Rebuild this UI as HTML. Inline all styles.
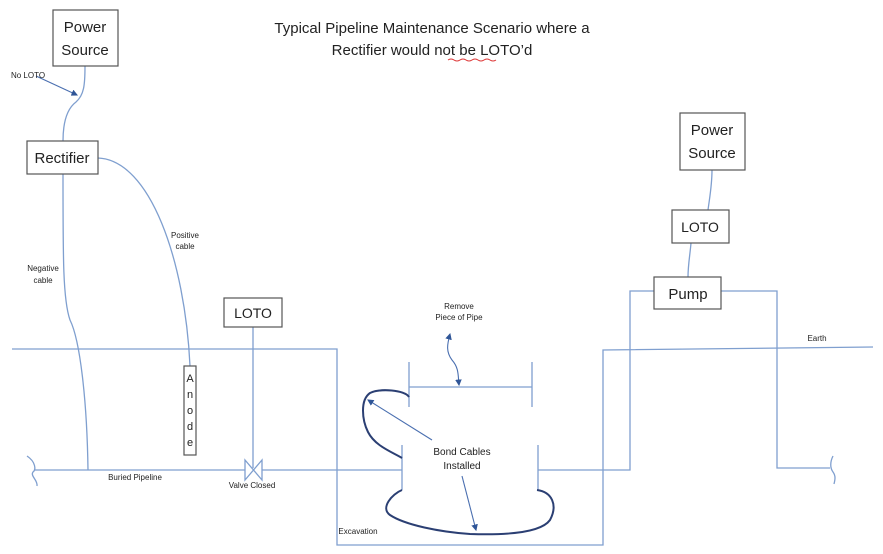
<!DOCTYPE html>
<html><head><style>
html,body{margin:0;padding:0;background:#fff;}
svg{display:block;}
text{font-family:"Liberation Sans",sans-serif;fill:#222;}
</style></head><body>
<svg width="883" height="554" viewBox="0 0 883 554" xmlns="http://www.w3.org/2000/svg">
<defs>
<marker id="ah" markerWidth="6" markerHeight="6" refX="5" refY="3" orient="auto"><path d="M0,0 L6,3 L0,6 z" fill="#2f5597"/></marker>
<marker id="as" markerWidth="6" markerHeight="6" refX="1" refY="3" orient="auto"><path d="M6,0 L0,3 L6,6 z" fill="#2f5597"/></marker>
</defs>
<g fill="none" stroke="#7f9fcf" stroke-width="1.3">
<path d="M85,66 C85,85 84,95 76,102 C68,108 63,120 63,141"/>
<path d="M63,174 C63,260 63,300 70,320 C80,340 87,400 88,470"/>
<path d="M98,158 C150,160 185,260 190,366"/>
<path d="M253,327 L253,468"/>
<path d="M12,349 L337,349 L337,545 L603,545 L603,350 L873,347"/>
<path d="M35,470 L245,470 M262,470 L402,470"/>
<path d="M402,445 L402,490"/>
<path d="M27,456 C36,462 36,470 33,472 C30,476 38,480 37,486"/>
<path d="M245,460 L245,480 L262,460 L262,480 Z"/>
<path d="M409,387 L532,387 M409,362 L409,407 M532,362 L532,407"/>
<path d="M538,445 L538,490 M538,470 L630,470 L630,291 L654,291"/>
<path d="M721,291 L777,291 L777,468 L830,468"/>
<path d="M833,456 C830,462 830,468 833,472 C836,476 835,480 834,484"/>
<path d="M712,170 C712,185 710,195 708,210 M691,243 C690,255 688,265 688,277"/>
</g>
<g fill="#fff" stroke="#555" stroke-width="1.2">
<rect x="53" y="10" width="65" height="56"/>
<rect x="27" y="141" width="71" height="33"/>
<rect x="184" y="366" width="12" height="89"/>
<rect x="224" y="298" width="58" height="29"/>
<rect x="680" y="113" width="65" height="57"/>
<rect x="672" y="210" width="57" height="33"/>
<rect x="654" y="277" width="67" height="32"/>
</g>
<g fill="none" stroke="#2b3f73" stroke-width="2">
<path d="M409,397 C405,390 380,388 370,393 C360,400 362,420 368,432 C375,446 392,452 402,458"/>
<path d="M402,490 C392,494 380,508 390,515 C405,525 440,532 470,534 C500,535 540,534 550,520 C558,505 552,492 537,490"/>
</g>
<g fill="none" stroke="#4a6fb0" stroke-width="1.1">
<path d="M36,76 L77,95" marker-end="url(#ah)"/>
<path d="M450,334 C447,345 446,352 452,360 C459,368 458,375 459,385" marker-start="url(#as)" marker-end="url(#ah)"/>
<path d="M432,440 L368,400" marker-end="url(#ah)"/>
<path d="M462,476 L476,530" marker-end="url(#ah)"/>
</g>
<g text-anchor="middle">
<text x="432" y="33" font-size="15">Typical Pipeline Maintenance Scenario where a</text>
<text x="432" y="55" font-size="15">Rectifier would not be LOTO’d</text>
<text x="85" y="32" font-size="15">Power</text>
<text x="85" y="55" font-size="15">Source</text>
<text x="62" y="163" font-size="15">Rectifier</text>
<text x="253" y="318" font-size="14">LOTO</text>
<text x="712" y="135" font-size="15">Power</text>
<text x="712" y="158" font-size="15">Source</text>
<text x="700" y="232" font-size="14">LOTO</text>
<text x="688" y="299" font-size="15">Pump</text>
<text x="28" y="78" font-size="8">No LOTO</text>
<text x="185" y="238" font-size="8">Positive</text>
<text x="185" y="249" font-size="8">cable</text>
<text x="43" y="271" font-size="8">Negative</text>
<text x="43" y="283" font-size="8">cable</text>
<text x="135" y="480" font-size="8">Buried Pipeline</text>
<text x="252" y="488" font-size="8">Valve Closed</text>
<text x="358" y="534" font-size="8">Excavation</text>
<text x="459" y="309" font-size="8">Remove</text>
<text x="459" y="320" font-size="8">Piece of Pipe</text>
<text x="462" y="455" font-size="10">Bond Cables</text>
<text x="462" y="469" font-size="10">Installed</text>
<text x="817" y="341" font-size="8">Earth</text>
<text x="190" y="382" font-size="11">A</text>
<text x="190" y="398" font-size="11">n</text>
<text x="190" y="414" font-size="11">o</text>
<text x="190" y="430" font-size="11">d</text>
<text x="190" y="446" font-size="11">e</text>
</g>
<path d="M448,60 q3,-2 6,0 t6,0 t6,0 t6,0 t6,0 t6,0 t6,0 t6,0" fill="none" stroke="#d33" stroke-width="1"/>
</svg>
</body></html>
